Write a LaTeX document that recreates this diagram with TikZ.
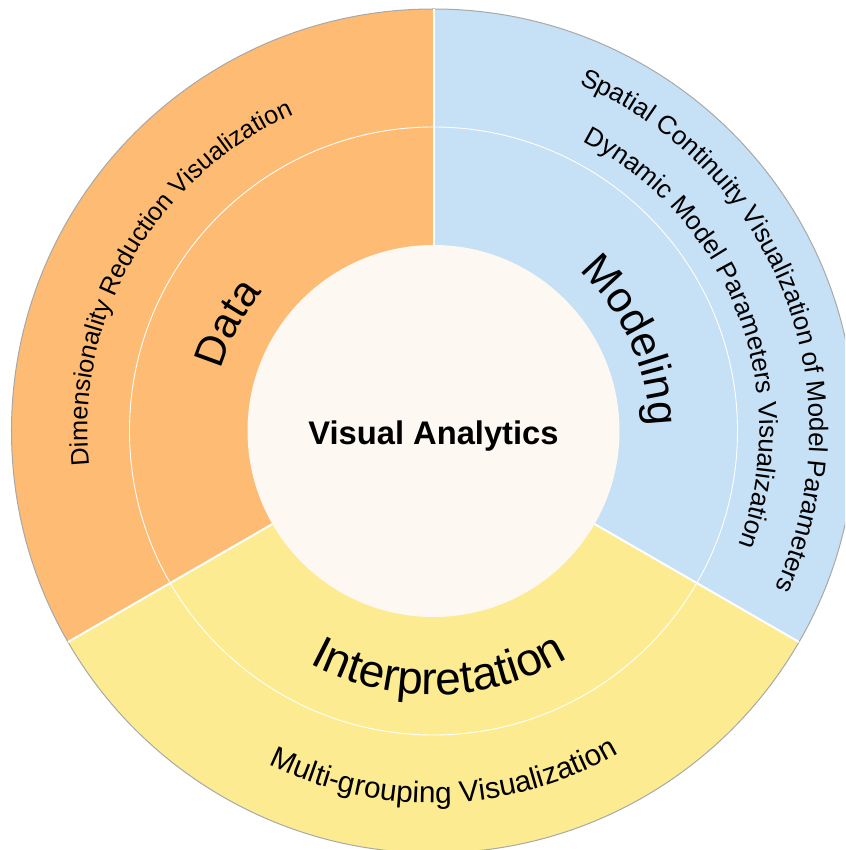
\documentclass[tikz,border=0pt]{standalone}
\usepackage{fontspec}
\setmainfont{Liberation Sans}
\usetikzlibrary{decorations.text}
\definecolor{dataC}{HTML}{FDBB74}
\definecolor{modC}{HTML}{C6E0F5}
\definecolor{intC}{HTML}{FDEB91}
\definecolor{cenC}{HTML}{FDF8F2}
\definecolor{rimC}{HTML}{A8A8A8}
\newcommand{\fsz}[1]{\fontsize{#1}{#1}\selectfont}
\begin{document}
\begin{tikzpicture}[x=1pt,y=1pt,
  divider/.style={draw=white, line width=2pt},
  ringline/.style={draw=white, line width=0.9pt},
  rim/.style={draw=rimC, line width=1pt},
  arctext/.style={decorate, decoration={text along path, text align=center, text={#1}}}
]
\useasboundingbox (-433.5,-419) rectangle (411.5,431);
\clip (-433.5,-419) rectangle (411.5,431);
\coordinate (O) at (0,0);
% sectors
\fill[dataC] (O) -- (90:422) arc[start angle=90,end angle=210,radius=422] -- cycle;
\fill[intC] (O) -- (210:422) arc[start angle=210,end angle=330,radius=422] -- cycle;
\fill[modC] (O) -- (330:422) arc[start angle=-30,end angle=90,radius=422] -- cycle;
% rim and ring boundary
\draw[rim] (O) circle[radius=422];
\draw[ringline] (O) circle[radius=304];
% dividers
\draw[divider] (90:186) -- (90:422);
\draw[divider] (210:186) -- (210:422);
\draw[divider] (330:186) -- (330:422);
% centre
\fill[cenC] (O) circle[radius=186];
\node[anchor=base, font=\bfseries\fsz{32.7}] (va) at (0,-14) {Visual Analytics};
% middle ring labels
\path[arctext={|\fsz{42}|Data}] (192.4:221) arc[start angle=192.4, end angle=112.4, radius=221];
\path[arctext={|\fsz{43}|Modeling}] (64.5:216) arc[start angle=64.5, end angle=-15.5, radius=216];
\path[arctext={|\fsz{46}|Interpretation}] (231.3:264) arc[start angle=231.3, end angle=311.3, radius=264];
% outer ring labels
\path[arctext={|\fsz{25.3}|Dimensionality Reduction Visualization}] (209.75:346) arc[start angle=209.75, end angle=89.75, radius=346];
\path[arctext={|\fsz{26}|Spatial Continuity Visualization of Model Parameters}] (81.2:376) arc[start angle=81.2, end angle=-38.8, radius=376];
\path[arctext={|\fsz{26}|Dynamic Model Parameters Visualization}] (76.1:326) arc[start angle=76.1, end angle=-33.9, radius=326];
\path[arctext={|\fsz{29.8}|Multi-grouping Visualization}] (211.8:372) arc[start angle=211.8, end angle=331.8, radius=372];
\end{tikzpicture}
\end{document}
